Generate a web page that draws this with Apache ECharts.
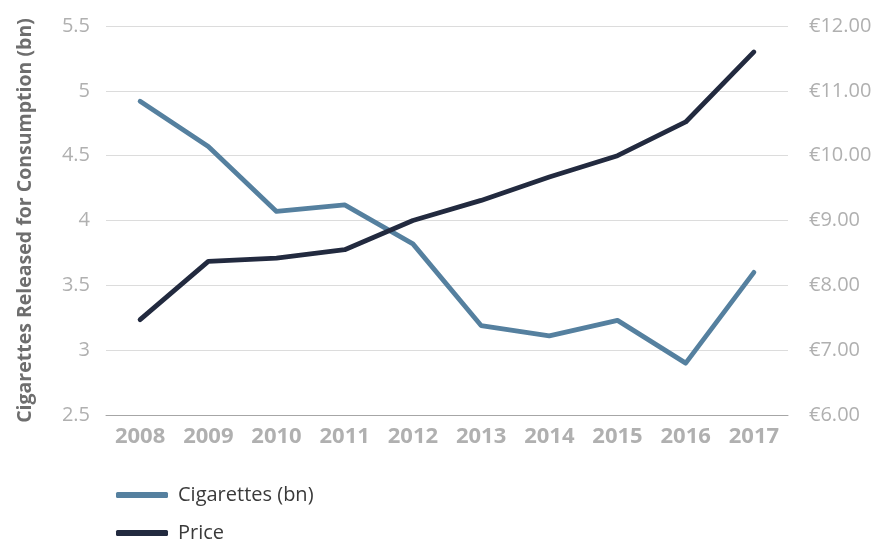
<!DOCTYPE html>
<html>
<head>
<meta charset="utf-8">
<script src="https://cdn.jsdelivr.net/npm/echarts@6/dist/echarts.min.js"></script>
<style>
  html, body { margin: 0; padding: 0; background: #ffffff; }
  #chart { width: 875px; height: 540px; }
</style>
</head>
<body>
<div id="chart"></div>
<script>
// Years on the horizontal axis
const years = ['2008', '2009', '2010', '2011', '2012', '2013', '2014', '2015', '2016', '2017'];
// Cigarettes released for consumption, billions
const cigarettes = [4.92, 4.57, 4.07, 4.12, 3.82, 3.19, 3.11, 3.23, 2.90, 3.60];
// Average price per pack, euro
const price = [7.47, 8.37, 8.42, 8.55, 9.00, 9.31, 9.67, 10.00, 10.52, 11.60];

const FONT = '"Open Sans", Lato, sans-serif';
const TICK_GREY = '#b0b0b0';

// one legend entry per row, stacked under the plot
function legendRow(name, top) {
  return {
    orient: 'vertical',
    left: 116,
    top: top,
    padding: 0,
    itemWidth: 52,
    itemHeight: 6,
    icon: 'roundRect',
    textStyle: { fontFamily: FONT, fontSize: 20, lineHeight: 20, color: '#3a3a3a', padding: [0, 0, 0, 5] },
    data: [name]
  };
}

const chart = echarts.init(document.getElementById('chart'), null, { renderer: 'canvas' });

chart.setOption({
  animation: false,
  backgroundColor: '#ffffff',
  textStyle: { fontFamily: FONT },
  grid: { left: 106, right: 87, top: 26, bottom: 125, containLabel: false },
  legend: [legendRow('Cigarettes (bn)', 485), legendRow('Price', 523)],
  xAxis: {
    type: 'category',
    data: years,
    boundaryGap: true,
    axisLine: { show: true, lineStyle: { color: '#a6a6a6', width: 1 } },
    axisTick: { show: false },
    axisLabel: { color: TICK_GREY, fontSize: 22, fontWeight: 'bold', margin: 11, fontFamily: FONT }
  },
  yAxis: [
    {
      type: 'value',
      min: 2.5,
      max: 5.5,
      interval: 0.5,
      name: 'Cigarettes Released for Consumption (bn)',
      nameLocation: 'middle',
      nameGap: 71,
      nameTextStyle: { color: '#6e6e6e', fontSize: 19.5, fontWeight: 'bold', fontFamily: FONT },
      axisLine: { show: false },
      axisTick: { show: false },
      axisLabel: { color: TICK_GREY, fontSize: 20, margin: 16, fontFamily: FONT },
      splitLine: { show: true, lineStyle: { color: '#dcdcdc', width: 1 } }
    },
    {
      type: 'value',
      min: 6,
      max: 12,
      interval: 1,
      position: 'right',
      axisLine: { show: false },
      axisTick: { show: false },
      axisLabel: {
        color: TICK_GREY, fontSize: 20, margin: 21, fontFamily: FONT,
        formatter: v => '€' + v.toFixed(2)
      },
      splitLine: { show: false }
    }
  ],
  series: [
    {
      name: 'Cigarettes (bn)',
      type: 'line',
      yAxisIndex: 0,
      data: cigarettes,
      showSymbol: false,
      symbol: 'none',
      lineStyle: { color: '#55809f', width: 4.8, cap: 'round', join: 'round' },
      itemStyle: { color: '#55809f' }
    },
    {
      name: 'Price',
      type: 'line',
      yAxisIndex: 1,
      data: price,
      showSymbol: false,
      symbol: 'none',
      lineStyle: { color: '#222a3f', width: 4.8, cap: 'round', join: 'round' },
      itemStyle: { color: '#222a3f' }
    }
  ]
});
</script>
</body>
</html>
